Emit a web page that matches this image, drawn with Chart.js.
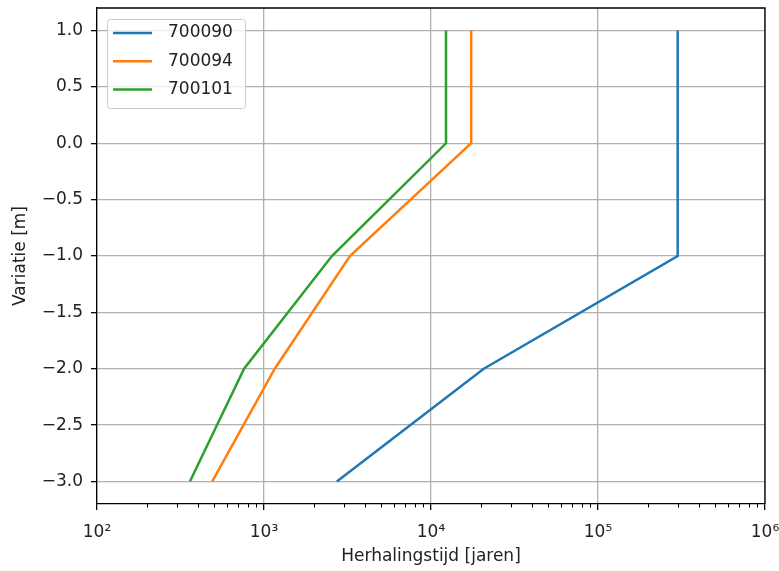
<!DOCTYPE html>
<html>
<head>
<meta charset="utf-8">
<script src="https://cdn.jsdelivr.net/npm/chart.js@4"></script>
<style>
  html, body { margin: 0; padding: 0; background: #fff; }
  #wrap { width: 779px; height: 571px; }
</style>
</head>
<body>
<div id="wrap"><canvas id="chart" width="779" height="571"></canvas></div>
<script>
// variatie-niveaus (y) en herhalingstijden per locatie (x)
const levels = [1.0, 0.0, -1.0, -2.0, -3.0];
const names = ['700090', '700094', '700101'];
const series700090 = [3.0e5, 3.0e5, 3.0e5, 2.07e4, 2.73e3];
const series700094 = [1.74e4, 1.74e4, 3.27e3, 1.16e3, 4.9e2];
const series700101 = [1.23e4, 1.23e4, 2.55e3, 7.6e2, 3.6e2];
const colors = ['#1f77b4', '#ff7f0e', '#2ca02c'];

const xTicks = [1e2, 1e3, 1e4, 1e5, 1e6];
const yTicks = [-3.0, -2.5, -2.0, -1.5, -1.0, -0.5, 0.0, 0.5, 1.0];

const FONT = 'DejaVu Sans';
const sup = { '2': '\u00b2', '3': '\u00b3', '4': '\u2074', '5': '\u2075', '6': '\u2076' };

function toPoints(xs) {
    return xs.map(function (x, i) { return { x: x, y: levels[i] }; });
}

const allSeries = [series700090, series700094, series700101];

// kleine tickstreepjes, kader boven/rechts en legenda
const extras = {
    id: 'extras',
    afterDraw: function (chart) {
        const ctx = chart.ctx;
        const a = chart.chartArea;
        const xs = chart.scales.x;
        ctx.save();
        ctx.strokeStyle = '#000';
        ctx.lineWidth = 1;
        for (let d = 2; d < 6; d++) {
            for (let k = 2; k <= 9; k++) {
                const px = Math.round(xs.getPixelForValue(k * Math.pow(10, d))) + 0.5;
                ctx.beginPath();
                ctx.moveTo(px, a.bottom);
                ctx.lineTo(px, a.bottom + 3.5);
                ctx.stroke();
            }
        }
        ctx.lineWidth = 1.3;
        ctx.beginPath();
        ctx.moveTo(a.left, a.top);
        ctx.lineTo(a.right, a.top);
        ctx.lineTo(a.right, a.bottom);
        ctx.stroke();

        // legenda in matplotlib-stijl
        const bx = a.left + 10, by = a.top + 11, bw = 138, bh = 89;
        ctx.fillStyle = 'rgba(255,255,255,0.8)';
        ctx.strokeStyle = '#cccccc';
        ctx.lineWidth = 1;
        ctx.beginPath();
        ctx.roundRect(bx + 0.5, by + 0.5, bw, bh, 3);
        ctx.fill();
        ctx.stroke();
        ctx.font = '17px "' + FONT + '"';
        ctx.textBaseline = 'middle';
        ctx.textAlign = 'left';
        for (let i = 0; i < names.length; i++) {
            const ly = by + 14 + i * 28.3;
            ctx.strokeStyle = colors[i];
            ctx.lineWidth = 2.5;
            ctx.beginPath();
            ctx.moveTo(bx + 6, ly);
            ctx.lineTo(bx + 45, ly);
            ctx.stroke();
            ctx.fillStyle = '#222';
            ctx.fillText(names[i], bx + 61, ly);
        }
        ctx.restore();
    }
};

new Chart(document.getElementById('chart'), {
    type: 'line',
    data: {
        datasets: allSeries.map(function (s, i) {
            return {
                label: names[i],
                data: toPoints(s),
                borderColor: colors[i],
                backgroundColor: colors[i],
                borderWidth: 2.5,
                pointRadius: 0,
                tension: 0,
                fill: false
            };
        })
    },
    options: {
        responsive: false,
        animation: false,
        devicePixelRatio: 1,
        layout: { padding: { left: 0, top: 8, right: 14, bottom: 0 } },
        plugins: { legend: { display: false }, tooltip: { enabled: false } },
        scales: {
            x: {
                type: 'logarithmic',
                min: 1e2,
                max: 1e6,
                afterBuildTicks: function (scale) {
                    scale.ticks = xTicks.map(function (v) { return { value: v }; });
                },
                afterFit: function (scale) {
                    scale.height = 67;
                    scale.paddingLeft = 0;
                    scale.paddingRight = 0;
                },
                grid: { color: '#b0b0b0', lineWidth: 1.3, tickColor: '#000', tickLength: 6 },
                border: { color: '#000', width: 1.3 },
                ticks: {
                    autoSkip: false,
                    maxRotation: 0,
                    padding: 12,
                    color: '#222',
                    font: { family: FONT, size: 17 },
                    callback: function (v) {
                        const e = String(Math.round(Math.log10(v)));
                        return '10' + (sup[e] || e);
                    }
                },
                title: {
                    display: true,
                    text: 'Herhalingstijd [jaren]',
                    color: '#222',
                    font: { family: FONT, size: 17 },
                    padding: { top: 0, bottom: 4 }
                }
            },
            y: {
                type: 'linear',
                min: -3.2,
                max: 1.2,
                afterBuildTicks: function (scale) {
                    scale.ticks = yTicks.map(function (v) { return { value: v }; });
                },
                afterFit: function (scale) {
                    scale.width = 97;
                    scale.paddingTop = 0;
                    scale.paddingBottom = 0;
                },
                grid: { color: '#b0b0b0', lineWidth: 1.3, tickColor: '#000', tickLength: 6 },
                border: { color: '#000', width: 1.3 },
                ticks: {
                    padding: 8,
                    color: '#222',
                    font: { family: FONT, size: 17 },
                    callback: function (v) { return v.toFixed(1).replace('-', '\u2212'); }
                },
                title: {
                    display: true,
                    text: 'Variatie [m]',
                    color: '#222',
                    font: { family: FONT, size: 17 },
                    padding: { top: 10, bottom: 0 }
                }
            }
        }
    },
    plugins: [extras]
});
</script>
</body>
</html>
